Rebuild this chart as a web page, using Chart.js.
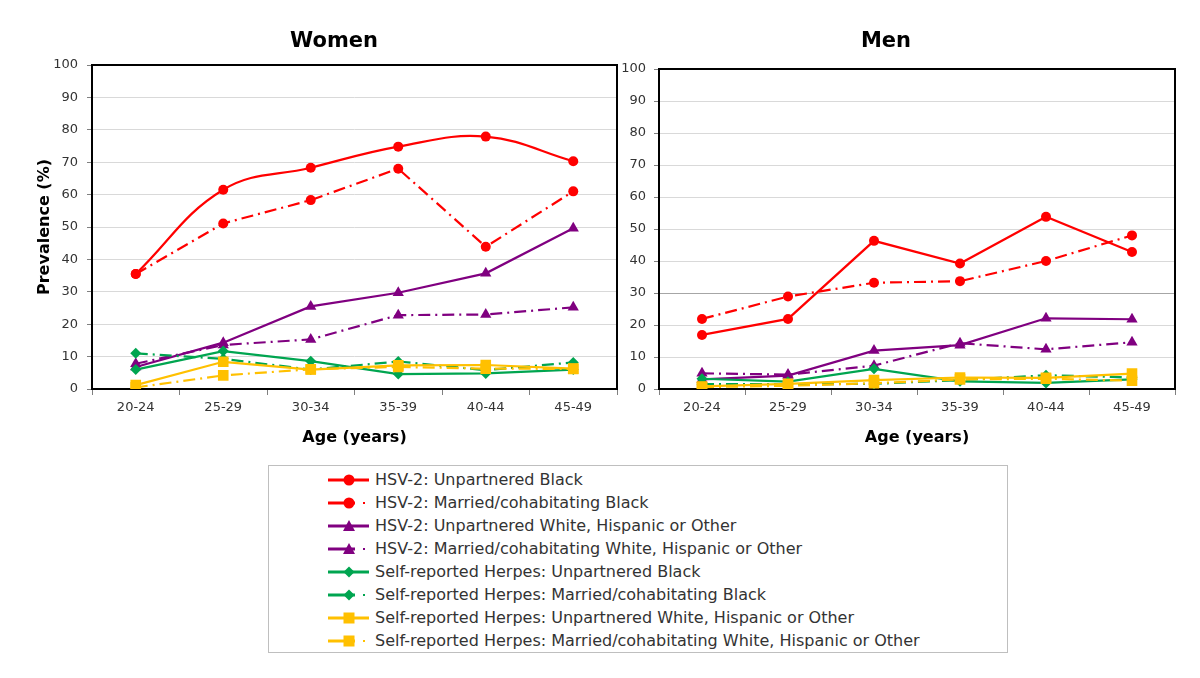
<!DOCTYPE html>
<html>
<head>
<meta charset="utf-8">
<script src="https://cdn.jsdelivr.net/npm/chart.js@4.4.1/dist/chart.umd.min.js"></script>
<style>
    body { margin: 0; background: #fff; font-family: 'DejaVu Sans', Verdana, sans-serif; }
    #wrap { position: relative; width: 1200px; height: 678px; overflow: hidden; background: #fff; }
    #wrap canvas { position: absolute; top: 0; }
    .panelTitle { position: absolute; top: 28px; line-height: 24px; font-weight: bold; font-size: 21px; color: #000; transform: translateX(-50%); white-space: nowrap; }
    #legend { position: absolute; left: 268px; top: 465px; width: 740px; height: 188px; border: 1px solid #bfbfbf; box-sizing: border-box; }
    .row { position: absolute; left: 0; height: 23px; width: 730px; }
    .row svg { position: absolute; left: 56px; top: 4px; }
    .row span { position: absolute; left: 106px; top: 0; line-height: 23px; font-size: 16px; color: #333; white-space: nowrap; }
</style>
</head>
<body>
<div id="wrap">
    <canvas id="womenChart" width="625" height="450" style="left:0"></canvas>
    <canvas id="menChart" width="580" height="450" style="left:620px"></canvas>
    <div class="panelTitle" style="left:334px">Women</div>
    <div class="panelTitle" style="left:886px">Men</div>
    <div id="legend"></div>
</div>
<script>
// Categories and ticks
const ageGroups = ['20-24', '25-29', '30-34', '35-39', '40-44', '45-49'];
const yMax = 100;
const yStep = 10;

const seriesLabels = [
    'HSV-2: Unpartnered Black',
    'HSV-2: Married/cohabitating Black',
    'HSV-2: Unpartnered White, Hispanic or Other',
    'HSV-2: Married/cohabitating White, Hispanic or Other',
    'Self-reported Herpes: Unpartnered Black',
    'Self-reported Herpes: Married/cohabitating Black',
    'Self-reported Herpes: Unpartnered White, Hispanic or Other',
    'Self-reported Herpes: Married/cohabitating White, Hispanic or Other'
];

// Women (%)
const womenHsvUnpartneredBlack = [35.5, 61.5, 68.3, 74.8, 77.9, 70.3];
const womenHsvMarriedBlack = [35.5, 51.1, 58.3, 68.0, 43.9, 61.0];
const womenHsvUnpartneredOther = [6.8, 14.3, 25.5, 29.7, 35.7, 49.6];
const womenHsvMarriedOther = [7.8, 13.6, 15.3, 22.8, 23.0, 25.2];
const womenSelfUnpartneredBlack = [6.0, 11.7, 8.6, 4.6, 4.8, 6.0];
const womenSelfMarriedBlack = [11.0, 9.3, 6.0, 8.5, 5.8, 8.2];
const womenSelfUnpartneredOther = [1.2, 8.4, 6.0, 7.3, 7.4, 6.3];
const womenSelfMarriedOther = [0.5, 4.2, 6.1, 6.8, 6.3, 6.2];

// Men (%)
const menHsvUnpartneredBlack = [16.9, 21.9, 46.3, 39.2, 53.8, 42.8];
const menHsvMarriedBlack = [21.9, 28.9, 33.2, 33.7, 40.0, 48.0];
const menHsvUnpartneredOther = [3.0, 4.2, 12.0, 13.7, 22.1, 21.8];
const menHsvMarriedOther = [4.9, 4.5, 7.3, 14.3, 12.4, 14.6];
const menSelfUnpartneredBlack = [3.2, 2.3, 6.3, 2.4, 1.9, 3.0];
const menSelfMarriedBlack = [1.5, 1.5, 1.6, 2.8, 4.3, 3.6];
const menSelfUnpartneredOther = [0.8, 1.6, 2.8, 3.6, 3.5, 4.8];
const menSelfMarriedOther = [0.6, 1.0, 1.8, 3.0, 3.2, 2.6];

const womenSeries = [womenHsvUnpartneredBlack, womenHsvMarriedBlack, womenHsvUnpartneredOther, womenHsvMarriedOther,
    womenSelfUnpartneredBlack, womenSelfMarriedBlack, womenSelfUnpartneredOther, womenSelfMarriedOther];
const menSeries = [menHsvUnpartneredBlack, menHsvMarriedBlack, menHsvUnpartneredOther, menHsvMarriedOther,
    menSelfUnpartneredBlack, menSelfMarriedBlack, menSelfUnpartneredOther, menSelfMarriedOther];

// Series styling
const RED = '#ff0000', PURPLE = '#800080', GREEN = '#00a550', GOLD = '#ffc000';
const DASH_DOT = [12, 5, 2, 5];
const seriesStyles = [
    { color: RED, point: 'circle', radius: 5, dashed: false },
    { color: RED, point: 'circle', radius: 5, dashed: true },
    { color: PURPLE, point: 'triangle', radius: 6.5, dashed: false },
    { color: PURPLE, point: 'triangle', radius: 6.5, dashed: true },
    { color: GREEN, point: 'rectRot', radius: 5.5, dashed: false },
    { color: GREEN, point: 'rectRot', radius: 5.5, dashed: true },
    { color: GOLD, point: 'rect', radius: 7.5, dashed: false },
    { color: GOLD, point: 'rect', radius: 7.5, dashed: true }
];

const tickFont = { family: "'DejaVu Sans', Verdana, sans-serif", size: 13 };
const titleFont = { family: "'DejaVu Sans', Verdana, sans-serif", size: 16, weight: 'bold' };

// Black frame round the plot area
const framePlugin = {
    id: 'frame',
    beforeDatasetsDraw(chart) {
        const a = chart.chartArea;
        const ctx = chart.ctx;
        ctx.save();
        ctx.strokeStyle = '#000';
        ctx.lineWidth = 2;
        ctx.strokeRect(a.left, a.top, a.right - a.left, a.bottom - a.top);
        ctx.restore();
    }
};

function buildDatasets(series, smoothFirst) {
    return series.map((values, i) => {
        const s = seriesStyles[i];
        return {
            label: seriesLabels[i],
            data: values,
            borderColor: s.color,
            backgroundColor: s.color,
            borderWidth: 2.2,
            borderDash: s.dashed ? DASH_DOT : [],
            pointStyle: s.point,
            pointRadius: s.radius,
            pointBorderWidth: 0,
            pointBackgroundColor: s.color,
            tension: (smoothFirst && i === 0) ? 0.4 : 0,
            order: series.length - i
        };
    });
}

function makeChart(id, series, opts) {
    new Chart(document.getElementById(id), {
        type: 'line',
        data: { labels: ageGroups, datasets: buildDatasets(series, opts.smoothFirst) },
        options: {
            responsive: false,
            animation: false,
            devicePixelRatio: 1,
            layout: { padding: { top: opts.top, right: opts.right, left: 0, bottom: 0 } },
            plugins: { legend: { display: false }, tooltip: { enabled: false } },
            scales: {
                x: {
                    offset: true,
                    afterFit: s => { s.height = 61; },
                    border: { display: false },
                    grid: { drawOnChartArea: false, offset: true, tickLength: 6, tickColor: '#808080' },
                    ticks: { font: tickFont, color: '#333', padding: 5, maxRotation: 0 },
                    title: { display: true, text: 'Age (years)', font: titleFont, color: '#000', padding: { top: 0, bottom: 3 } }
                },
                y: {
                    min: 0,
                    max: yMax,
                    afterFit: s => { s.width = opts.yWidth; },
                    border: { display: false },
                    grid: {
                        color: opts.gridColor,
                        lineWidth: 1,
                        tickLength: 5,
                        tickColor: '#808080'
                    },
                    ticks: { stepSize: yStep, font: tickFont, color: '#333', padding: opts.tickPad },
                    title: { display: opts.yTitle, text: 'Prevalence (%)', font: titleFont, color: '#000', padding: { top: 35, bottom: 0 } }
                }
            }
        },
        plugins: [framePlugin]
    });
}

makeChart('womenChart', womenSeries, {
    top: 65, right: 8, yWidth: 92, tickPad: 9, yTitle: true, smoothFirst: true,
    gridColor: '#d9d9d9'
});
makeChart('menChart', menSeries, {
    top: 69, right: 25, yWidth: 39, tickPad: 8, yTitle: false, smoothFirst: false,
    gridColor: ctx => (ctx.tick && ctx.tick.value === 30) ? '#a6a6a6' : '#d9d9d9'
});

// Legend
function markerSvg(s, cx, cy) {
    const c = s.color;
    if (s.point === 'circle') return `<circle cx="${cx}" cy="${cy}" r="5.5" fill="${c}"/>`;
    if (s.point === 'triangle') return `<polygon points="${cx},${cy - 6} ${cx + 6},${cy + 5} ${cx - 6},${cy + 5}" fill="${c}"/>`;
    if (s.point === 'rectRot') return `<polygon points="${cx},${cy - 5.5} ${cx + 5.5},${cy} ${cx},${cy + 5.5} ${cx - 5.5},${cy}" fill="${c}"/>`;
    return `<rect x="${cx - 5.5}" y="${cy - 5.5}" width="11" height="11" fill="${c}"/>`;
}

const legend = document.getElementById('legend');
seriesLabels.forEach((label, i) => {
    const s = seriesStyles[i];
    const row = document.createElement('div');
    row.className = 'row';
    row.style.top = (1.5 + 23.1 * i) + 'px';
    let line;
    if (s.dashed) {
        line = `<line x1="3" y1="8" x2="30" y2="8" stroke="${s.color}" stroke-width="3"/>` +
               `<rect x="38" y="7" width="2" height="2" fill="${s.color}"/>`;
    } else {
        line = `<line x1="3" y1="8" x2="44" y2="8" stroke="${s.color}" stroke-width="3"/>`;
    }
    row.innerHTML = `<svg width="48" height="16">${line}${markerSvg(s, 24, 8)}</svg><span>${label}</span>`;
    legend.appendChild(row);
});
</script>
</body>
</html>
